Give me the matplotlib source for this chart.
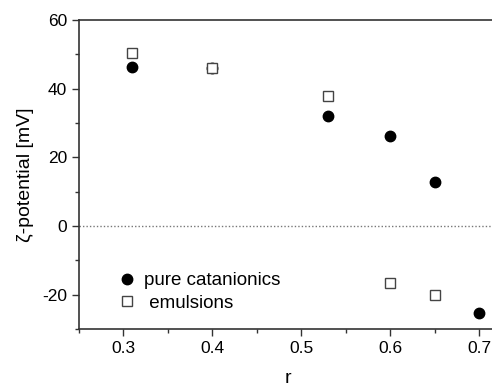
import matplotlib
matplotlib.use("Agg")
import matplotlib.pyplot as plt
from matplotlib.ticker import MultipleLocator

plt.rcParams['font.family'] = ['Liberation Sans', 'DejaVu Sans']
plt.rcParams['axes.unicode_minus'] = False

r_cat = [0.31, 0.40, 0.53, 0.60, 0.65, 0.70]
zeta_cat = [46.4, 46.1, 32.1, 26.2, 12.8, -25.4]
r_emu = [0.31, 0.40, 0.53, 0.60, 0.65]
zeta_emu = [50.5, 46.0, 38.0, -16.6, -20.1]

fig = plt.figure(figsize=(4.92, 3.86), dpi=100)
ax = fig.add_axes([79/492, 57/386, 418/492, 309/386])

ax.axhline(0, color='#777777', linestyle=(0, (1, 1.5)), linewidth=1.0, zorder=1)
ax.plot(r_cat, zeta_cat, 'o', color='black', markersize=7.5, label='pure catanionics', zorder=3)
ax.plot(r_emu, zeta_emu, 's', markerfacecolor='white', markeredgecolor='#444444',
        markeredgewidth=1.0, markersize=7, label=' emulsions', zorder=4)

ax.set_xlim(0.25, 0.72)
ax.set_ylim(-30, 60)
ax.xaxis.set_major_locator(MultipleLocator(0.1))
ax.xaxis.set_minor_locator(MultipleLocator(0.05))
ax.yaxis.set_major_locator(MultipleLocator(20))
ax.yaxis.set_minor_locator(MultipleLocator(10))
ax.set_xticks([0.3, 0.4, 0.5, 0.6, 0.7])
ax.set_xticklabels(['0.3', '0.4', '0.5', '0.6', '0.7'])
ax.tick_params(which='major', direction='out', length=5, width=1, labelsize=12.5, color='#333333')
ax.tick_params(which='minor', direction='out', length=3, width=1, color='#333333')
for s in ax.spines.values():
    s.set_linewidth(1.2)
    s.set_color('#333333')
ax.spines['right'].set_visible(False)

ax.set_xlabel('r', fontsize=14, labelpad=10)
ax.set_ylabel('ζ-potential [mV]', fontsize=14, labelpad=6)

ax.legend(loc='upper left', bbox_to_anchor=(0.065, 0.215), frameon=False, fontsize=13.5,
          handletextpad=0.3, labelspacing=0.3, borderpad=0, handlelength=1.2)

fig.savefig('out.png', dpi=100)
